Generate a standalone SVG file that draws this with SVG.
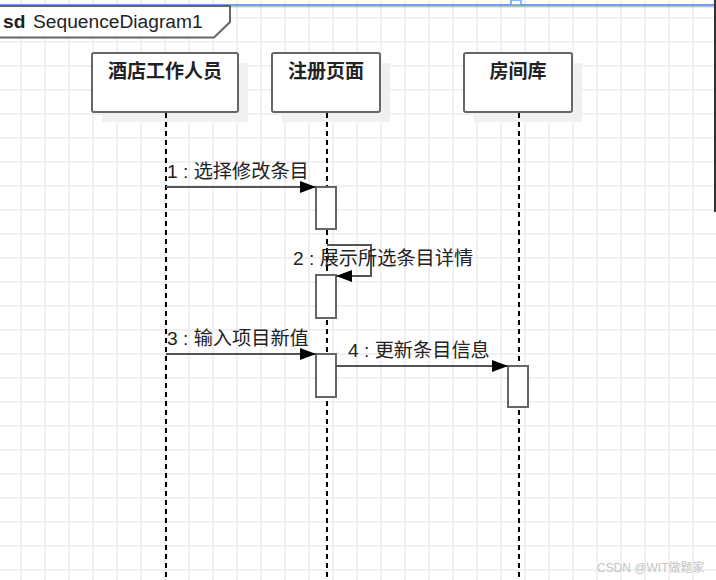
<svg xmlns="http://www.w3.org/2000/svg" width="716" height="580" viewBox="0 0 716 580">
<defs>
<pattern id="grid" patternUnits="userSpaceOnUse" x="20" y="17" width="24" height="24">
<path d="M0,1 H24 M1,0 V24" stroke="#ebebeb" stroke-width="1.5" fill="none"/>
</pattern>
<marker id="arr" markerUnits="userSpaceOnUse" markerWidth="16" markerHeight="12" refX="16" refY="6" orient="auto">
<path d="M0,0 L16,6 L0,12 z" fill="#000"/>
</marker>
<style>
text{font-family:"Liberation Sans","Noto Sans CJK SC",sans-serif;fill:#222}
.head{font-size:19px;font-weight:bold;text-anchor:middle}
.lbl{font-size:19.2px}
.box{fill:#fff;stroke:#666;stroke-width:2}
.shadow{fill:#f0f0f0}
.life{stroke:#000;stroke-width:2;stroke-dasharray:5 4;fill:none}
.msg{stroke:#555;stroke-width:2;fill:none}
.act{fill:#fff;stroke:#666;stroke-width:2}
</style>
</defs>
<rect x="0" y="0" width="716" height="580" fill="#fff"/>
<rect x="0" y="0" width="716" height="580" fill="url(#grid)"/>
<g id="window">
<line x1="0" y1="5" x2="716" y2="5" stroke="#6f9ff0" stroke-width="2"/>
<line x1="0" y1="6.8" x2="716" y2="6.8" stroke="#999" stroke-width="0.8"/>
<rect x="511" y="0" width="10" height="5" fill="#fff" stroke="#6f9ff0" stroke-width="1.5"/>
<line x1="715" y1="0" x2="715" y2="212" stroke="#333" stroke-width="2"/>
</g>
<g id="frame">
<path d="M-2,6 H230 V22 L214,37.5 H-2 z" fill="#fff" stroke="#666" stroke-width="2"/>
<text x="3" y="27.5" style="font-size:19.2px;font-weight:bold">sd</text>
<text x="33" y="27.5" style="font-size:19.2px">SequenceDiagram1</text>
</g>
<g id="staff">
<rect class="shadow" x="102" y="63" width="146" height="59"/>
<rect class="box" x="92" y="53" width="146" height="59" rx="2"/>
<text class="head" x="165" y="78">酒店工作人员</text>
</g>
<g id="register">
<rect class="shadow" x="282" y="63" width="108" height="59"/>
<rect class="box" x="272" y="53" width="108" height="59" rx="2"/>
<text class="head" x="326" y="78">注册页面</text>
</g>
<g id="roomdb">
<rect class="shadow" x="474" y="63" width="108" height="59"/>
<rect class="box" x="464" y="53" width="108" height="59" rx="2"/>
<text class="head" x="518" y="78">房间库</text>
</g>
<g id="lifelines">
<line class="life" x1="166" y1="113" x2="166" y2="580"/>
<line class="life" x1="327" y1="113" x2="327" y2="580"/>
<line class="life" x1="519" y1="113" x2="519" y2="580"/>
</g>
<g id="activations">
<rect class="act" x="316" y="187" width="20" height="42"/>
<rect class="act" x="316" y="275" width="20" height="43"/>
<rect class="act" x="316" y="354" width="20" height="43"/>
<rect class="act" x="508" y="366" width="20" height="41"/>
</g>
<g id="connectors">
<line class="msg" x1="166" y1="187" x2="316" y2="187" marker-end="url(#arr)"/>
<path class="msg" d="M327,245 H371 V276 H336" marker-end="url(#arr)"/>
<line class="msg" x1="166" y1="354" x2="316" y2="354" marker-end="url(#arr)"/>
<line class="msg" x1="336" y1="366" x2="508" y2="366" marker-end="url(#arr)"/>
</g>
<g id="labels">
<text class="lbl" x="167" y="178">1 : 选择修改条目</text>
<text class="lbl" x="293" y="265">2 : 展示所选条目详情</text>
<text class="lbl" x="167" y="345">3 : 输入项目新值</text>
<text class="lbl" x="348" y="357">4 : 更新条目信息</text>
</g>
<text x="597" y="572" style="font-size:12px;fill:#c4c4c4">CSDN @WIT做题家</text>
</svg>
